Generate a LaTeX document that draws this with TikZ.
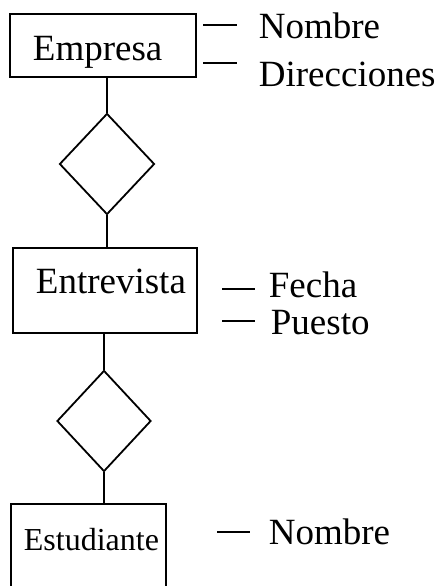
\documentclass[tikz,border=0pt]{standalone}
\usepackage{fontspec}
\setmainfont{Liberation Serif}
\usepackage{tikz}
\usetikzlibrary{shapes.geometric}

\begin{document}
\begin{tikzpicture}[x=1pt, y=-1pt, line width=1.8pt]
			\tikzset{entity/.style={shape = rectangle, draw, inner sep = 0pt}}
			\tikzset{relation/.style={shape = diamond, draw, inner sep = 0pt}}
			\tikzset{entname/.style={anchor = base west, inner sep = 0pt, font = \fontsize{37}{40}\selectfont}}
			\tikzset{attr/.style={anchor = base west, inner sep = 0pt, font = \fontsize{37}{40}\selectfont}}
			\clip (0, 0) rectangle (440, 586);
			%entities
			\node[entity, minimum width = 186pt, minimum height = 63pt] (empresa) at (103, 45.5) {};
			\node[entity, minimum width = 184pt, minimum height = 85pt] (entrevista) at (105, 290.5) {};
			\node[entity, minimum width = 155pt, minimum height = 116pt] (estudiante) at (88.5, 562) {};
			\node[entname] (empresaN) at (32, 60) {Empresa};
			\node[entname] (entrevistaN) at (35, 293) {Entrevista};
			\node[entname, font = \fontsize{32}{36}\selectfont] (estudianteN) at (23, 550) {Estudiante};
			%relations
			\node[relation, minimum width = 95pt, minimum height = 101pt] (r1) at (107, 164) {};
			\node[relation, minimum width = 94pt, minimum height = 101pt] (r2) at (104, 421) {};
			%attributes
			\node[attr] (nombreE) at (258, 39) {Nombre};
			\node[attr] (direcciones) at (258, 86) {Direcciones};
			\node[attr] (fecha) at (268, 297) {Fecha};
			\node[attr] (puesto) at (270, 334) {Puesto};
			\node[attr] (nombreS) at (268, 544) {Nombre};
			\coordinate (aNombreE) at (203, 25);
			\coordinate (aDirecciones) at (203, 63);
			\coordinate (aFecha) at (222, 289);
			\coordinate (aPuesto) at (222, 321);
			\coordinate (aNombreS) at (217, 532);
			%edges
			\draw (r1.north) -- (r1.north |- empresa.south);
			\draw (r1.south) -- (r1.south |- entrevista.north);
			\draw (r2.north) -- (r2.north |- entrevista.south);
			\draw (r2.south) -- (r2.south |- estudiante.north);
			\draw (aNombreE) -- ++(34, 0);
			\draw (aDirecciones) -- ++(34, 0);
			\draw (aFecha) -- ++(33, 0);
			\draw (aPuesto) -- ++(33, 0);
			\draw (aNombreS) -- ++(33, 0);
\end{tikzpicture}
\end{document}
